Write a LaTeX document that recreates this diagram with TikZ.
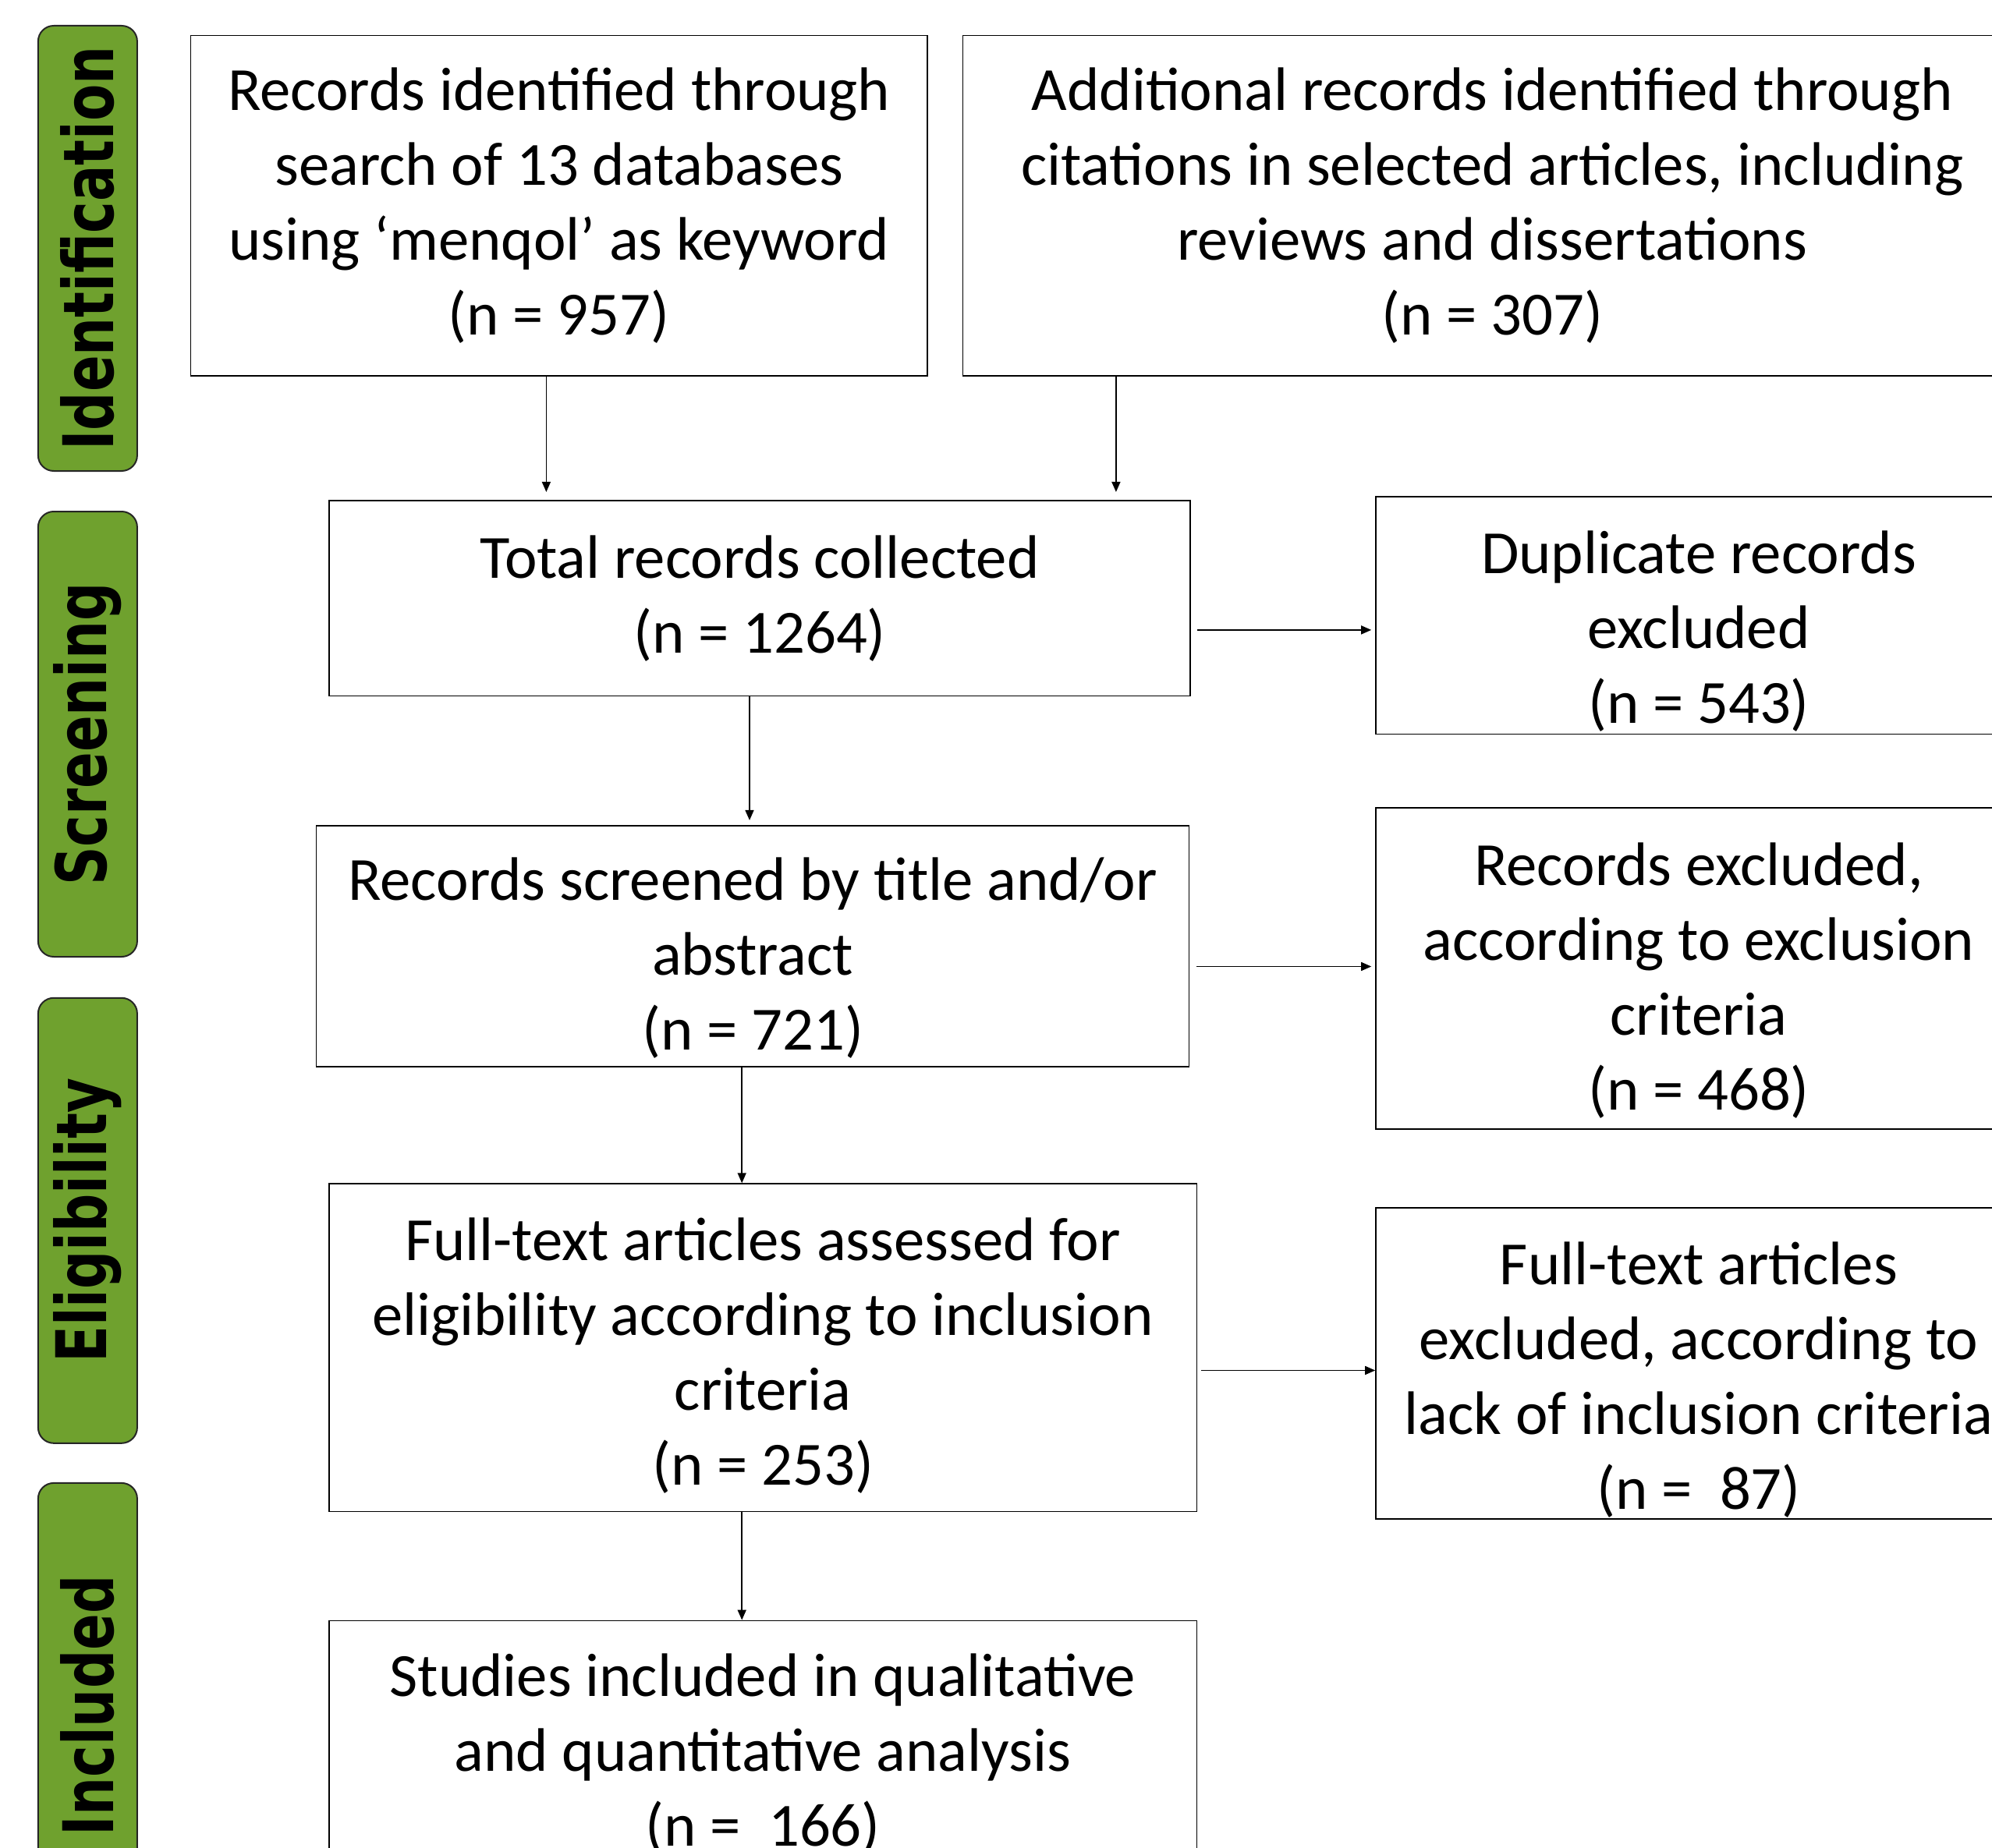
\documentclass[tikz,border=0pt]{standalone}
\usepackage{fontspec}
\setmainfont{Carlito}
\newfontfamily\phasefont{DejaVu Sans}
\usetikzlibrary{arrows.meta}
\definecolor{phasegreen}{RGB}{111,161,46}
\tikzset{
  flowbox/.style={draw, line width=0.016cm, inner sep=0pt, align=center,
    font=\fontsize{22.4}{27.3}\selectfont},
  phasebox/.style={draw=black!85, line width=0.02cm, fill=phasegreen,
    rounded corners=0.2cm, rotate=90, minimum width=5.71cm,
    minimum height=1.27cm, inner sep=0pt,
    font=\phasefont\bfseries\fontsize{19.6}{20}\selectfont},
  flowarrow/.style={line width=0.016cm, -{Triangle[length=0.13cm,width=0.11cm]}},
}
\newcommand{\phasetext}[1]{\scalebox{1}[1.3]{#1}}
% invisible strut that pushes a text block a little down in its box
\newcommand{\topgap}[1]{\rule{0pt}{#1}}
\begin{document}
\begin{tikzpicture}
                \useasboundingbox (0,0) rectangle (25.54,-23.70);
                \clip (0,0) rectangle (25.54,-23.70);
                
                % Phase labels on the left
                \node [phasebox] (idlab) at (1.124,-3.185) {\phasetext{Identification}};%
                \node [phasebox] (scrlab) at (1.124,-9.415) {\phasetext{Screening}};%
                \node [phasebox] (eliglab) at (1.124,-15.653) {\phasetext{Eligibility}};%
                \node [phasebox] (incllab) at (1.124,-21.874) {\phasetext{Included}};%
                
                % Identification boxes
                \node [flowbox, minimum width=9.447cm, minimum height=4.365cm] (dbrec) at (7.167,-2.639)
                  {Records identified through\\ search of 13 databases\\ using ‘menqol’ as keyword\\ (n = 957)};%
                \node [flowbox, minimum width=13.574cm, minimum height=4.365cm] (addrec) at (19.133,-2.639)
                  {Additional records identified through\\ citations in selected articles, including\\ reviews and dissertations\\ (n = 307)};%
                
                % Main column
                \node [flowbox, minimum width=11.043cm, minimum height=2.509cm] (total) at (9.741,-7.672)
                  {Total records collected\\ (n = 1264)};%
                \node [flowbox, minimum width=11.19cm, minimum height=3.095cm] (screened) at (9.651,-12.135)
                  {\topgap{24.2pt}Records screened by title and/or\\ abstract\\ (n = 721)};%
                \node [flowbox, minimum width=11.124cm, minimum height=4.203cm] (fulltext) at (9.781,-17.282)
                  {\topgap{21.4pt}Full-text articles assessed for\\ eligibility according to inclusion\\ criteria\\ (n = 253)};%
                \node [flowbox, minimum width=11.124cm, minimum height=3.286cm] (studies) at (9.781,-22.427)
                  {\topgap{19.6pt}Studies included in qualitative\\ and quantitative analysis\\ (n =~~166)};%
                
                % Exclusion column
                \node [flowbox, minimum width=8.28cm, minimum height=3.045cm] (dupl) at (21.78,-7.892)
                  {\topgap{27pt}Duplicate records\\ excluded\\ (n = 543)};%
                \node [flowbox, minimum width=8.28cm, minimum height=4.121cm] (recexcl) at (21.78,-12.42)
                  {\topgap{24.2pt}Records excluded,\\ according to exclusion\\ criteria\\ (n = 468)};%
                \node [flowbox, minimum width=8.28cm, minimum height=3.99cm] (ftexcl) at (21.78,-17.485)
                  {\topgap{27.6pt}Full-text articles\\ excluded, according to\\ lack of inclusion criteria\\ (n =~~87)};%
                
                % Drawing arrows down
                \draw [flowarrow, shorten >=0.1cm] ([xshift=-0.163cm]dbrec.south) -- ([xshift=-0.163cm]dbrec.south |- total.north);%
                \draw [flowarrow, shorten >=0.1cm] ([xshift=1.971cm]addrec.south west) -- ([xshift=1.971cm]addrec.south west |- total.north);%
                \draw [flowarrow, shorten >=0.06cm] ([xshift=-0.131cm]total.south) -- ([xshift=-0.131cm]total.south |- screened.north);%
                \draw [flowarrow] ([xshift=-0.139cm]screened.south) -- ([xshift=-0.139cm]screened.south |- fulltext.north);%
                \draw [flowarrow] ([xshift=-0.269cm]fulltext.south) -- ([xshift=-0.269cm]fulltext.south |- studies.north);%
                
                % Drawing arrows right
                \draw [flowarrow, shorten <=0.08cm, shorten >=0.05cm] ([yshift=-0.407cm]total.east) -- ([yshift=-0.407cm]total.east -| dupl.west);%
                \draw [flowarrow, shorten <=0.09cm, shorten >=0.05cm] ([yshift=-0.26cm]screened.east) -- ([yshift=-0.26cm]screened.east -| recexcl.west);%
                \draw [flowarrow, shorten <=0.05cm] ([yshift=-0.293cm]fulltext.east) -- ([yshift=-0.293cm]fulltext.east -| ftexcl.west);%
\end{tikzpicture}
\end{document}
